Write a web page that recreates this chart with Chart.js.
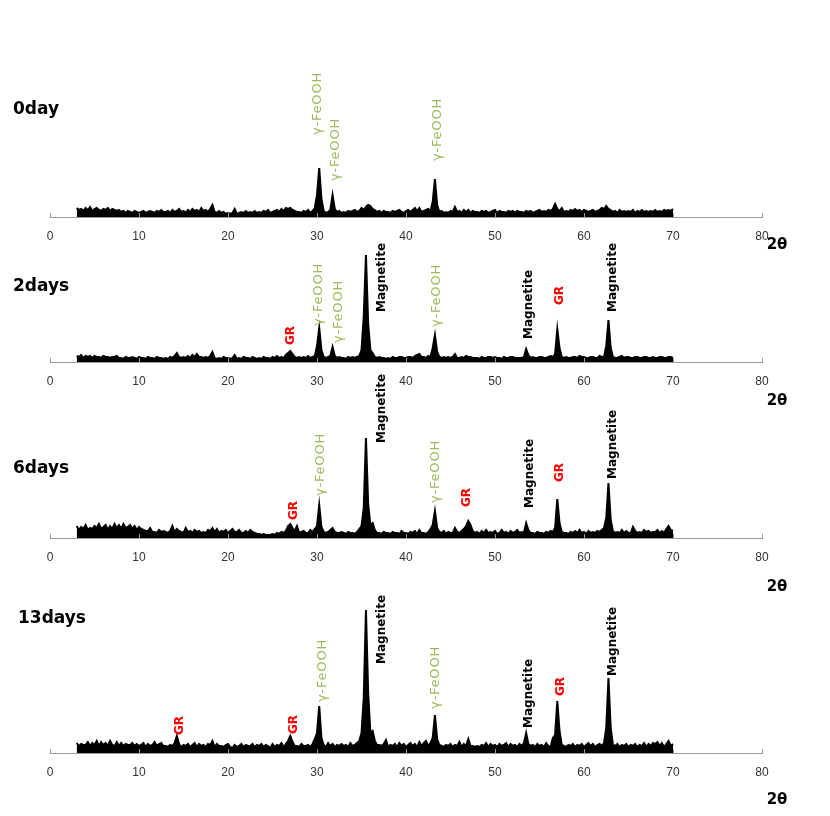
<!DOCTYPE html>
<html><head><meta charset="utf-8">
<script src="https://cdn.jsdelivr.net/npm/chart.js@4.4.0/dist/chart.umd.min.js"></script>
<style>
html,body{margin:0;padding:0;background:#fff;}
#wrap{position:relative;width:830px;height:816px;overflow:hidden;}
canvas{position:absolute;left:0;}
</style></head><body><div id="wrap">
<canvas id="c0" width="830" height="230" style="top:47px"></canvas>
<canvas id="c1" width="830" height="230" style="top:192px"></canvas>
<canvas id="c2" width="830" height="230" style="top:368px"></canvas>
<canvas id="c3" width="830" height="230" style="top:583px"></canvas>
</div>
<script>
// 2θ scan from 3° to 70°, 0.25° step
const twoTheta = Array.from({length: 269}, (_, i) => 3 + i * 0.25);
const xTicks = [0, 10, 20, 30, 40, 50, 60, 70, 80];
const panelNames = ['0day', '2days', '6days', '13days'];
const axisTitle = '2θ';

// intensities (relative), rows of 5° (20 points)
const day0 = [
 9,7,8,6,9,7,10,6,8,9,7,6,8,7,9,6,8,7,6,7,
 5,6,4,6,5,4,6,5,4,5,6,4,5,6,5,4,6,5,7,5,
 5,6,4,7,5,6,8,5,6,4,7,5,8,6,7,5,9,6,7,5,
 8,12,5,4,6,4,5,3,4,3,4,8,3,4,5,4,6,4,5,4,
 6,4,5,4,6,5,7,4,5,6,7,5,8,6,9,8,9,7,6,5,
 5,4,6,5,7,4,6,9,22,49,18,6,4,5,7,22,8,5,6,4,
 5,4,6,5,6,7,5,6,9,7,10,12,11,8,7,5,6,4,6,5,
 5,4,6,5,6,7,5,4,6,7,5,7,9,6,9,5,6,7,8,6,
 15,38,12,5,6,4,5,4,6,5,10,5,6,4,7,5,7,4,6,5,
 5,4,6,5,6,4,5,6,7,4,6,5,5,4,6,5,6,4,6,5,
 5,4,6,5,6,4,5,6,7,5,6,5,7,6,8,13,8,6,9,5,
 6,5,7,6,8,6,7,5,7,6,5,6,7,5,6,7,9,8,11,8,
 7,5,6,4,7,5,6,5,6,5,7,4,6,5,7,5,6,5,6,5,
 7,5,6,5,7,6,7,6,8];
const day2 = [
 6,5,7,4,6,5,6,4,6,5,5,4,6,5,5,4,5,5,6,4,
 4,3,5,4,4,5,4,3,5,4,4,3,5,4,4,3,5,4,4,3,
 4,3,5,4,6,9,5,4,5,4,6,4,7,5,8,5,5,4,5,4,
 6,10,4,3,4,3,5,4,4,3,4,7,3,4,3,5,4,4,3,5,
 4,3,4,3,5,4,4,3,5,4,6,4,5,4,7,9,11,8,5,4,
 5,4,5,4,6,4,5,6,16,34,12,5,4,5,6,15,6,4,5,4,
 4,3,5,4,5,4,5,6,12,45,107,38,12,9,5,4,5,4,4,3,
 4,3,5,4,4,5,5,4,4,5,5,4,6,7,8,5,5,4,6,5,
 14,27,10,5,4,5,4,5,4,5,8,4,4,5,4,6,5,5,4,4,
 4,3,5,4,4,5,5,4,5,4,4,3,5,4,4,5,5,4,4,4,
 4,5,13,7,4,5,4,4,5,5,4,4,5,6,5,8,33,14,5,4,
 5,4,4,5,5,4,6,5,5,4,4,5,5,4,4,6,5,5,16,42,
 14,5,4,4,5,6,4,5,5,4,4,5,5,4,4,5,5,4,4,5,
 4,4,5,5,4,4,5,5,4];
const day6 = [
 12,8,11,9,13,8,10,9,12,10,14,9,11,13,8,12,9,14,10,13,
 9,14,10,11,13,9,12,8,11,9,8,7,7,10,6,6,5,8,6,7,
 6,5,7,12,6,9,7,6,5,10,6,7,5,8,6,7,5,6,5,8,
 7,10,6,9,5,7,6,8,5,7,9,6,6,8,5,5,7,5,8,6,
 5,4,4,3,4,3,3,3,4,3,5,4,6,5,7,12,14,10,7,12,
 5,6,7,5,5,8,6,9,12,33,11,6,5,6,8,10,6,5,5,6,
 5,4,6,5,5,4,6,9,12,30,100,34,13,15,8,5,5,4,6,5,
 5,4,6,5,5,4,7,5,5,4,6,5,7,4,8,5,5,4,6,9,
 13,27,10,6,5,7,4,6,5,5,10,6,5,7,9,12,17,13,7,5,
 6,4,7,5,8,5,6,5,7,4,5,8,5,6,4,7,5,6,8,5,
 6,5,15,8,5,5,4,6,5,5,4,6,5,7,6,10,39,15,6,5,
 5,4,6,5,7,5,8,5,6,4,7,5,6,5,7,6,8,10,20,55,
 18,7,5,6,5,8,5,7,5,5,11,7,5,6,5,8,6,7,5,6,
 6,8,5,7,5,9,12,8,7];
const day13 = [
 10,7,9,8,8,11,7,10,8,12,7,11,8,10,7,12,8,7,11,7,
 10,7,9,8,8,10,7,9,7,8,10,6,9,7,8,11,7,9,10,7,
 7,6,8,7,10,17,9,6,8,7,9,6,8,10,6,9,7,8,6,9,
 8,12,6,9,7,7,6,8,9,6,5,8,6,7,9,6,8,7,7,9,
 6,8,7,9,6,8,7,5,9,6,8,7,10,6,9,12,17,11,7,7,
 6,9,7,7,8,6,9,14,20,47,15,8,6,10,7,9,6,8,7,9,
 7,8,6,10,7,8,10,12,20,55,143,60,20,22,12,8,8,7,9,13,
 6,8,7,9,6,10,7,9,6,8,10,7,9,6,11,7,10,12,7,10,
 15,38,14,8,7,6,8,7,9,6,8,7,11,6,9,7,14,7,7,6,
 7,6,8,7,10,6,9,7,8,6,9,7,8,10,6,9,7,8,6,9,
 7,10,20,9,7,8,6,9,7,8,6,10,7,6,15,18,52,22,8,7,
 6,8,7,9,6,8,7,9,6,8,10,7,9,6,8,9,7,10,25,75,
 25,8,7,9,6,8,7,9,6,8,7,9,6,8,7,10,6,9,7,10,
 9,11,7,10,6,9,12,7,9];

// peak annotations: [text, 2θ anchor, intensity anchor]
const peaks0 = [['γ-FeOOH',30.1,82],['γ-FeOOH',32.1,36],['γ-FeOOH',43.6,56]];
const peaks2 = [['GR',27.1,17],['γ-FeOOH',30.2,36],['γ-FeOOH',32.4,19],['Magnetite',37.3,50],
  ['γ-FeOOH',43.4,35],['Magnetite',53.8,23],['GR',57.3,57],['Magnetite',63.2,50]];
const peaks6 = [['GR',27.4,18],['γ-FeOOH',30.4,42],['Magnetite',37.3,95],['γ-FeOOH',43.3,35],
  ['GR',46.8,31],['Magnetite',53.9,30],['GR',57.3,56],['Magnetite',63.2,59]];
const peaks13 = [['GR',14.6,18],['GR',27.4,19],['γ-FeOOH',30.6,51],['Magnetite',37.3,89],
  ['γ-FeOOH',43.3,44],['Magnetite',53.8,25],['GR',57.4,57],['Magnetite',63.2,77]];

const labelStyle = {
  'γ-FeOOH': {font: '13px "DejaVu Sans"', color: '#9BBB59', spacing: '0.8px'},
  'Magnetite': {font: 'bold 12px "DejaVu Sans"', color: '#000000', spacing: '0px'},
  'GR': {font: 'bold 12px "DejaVu Sans"', color: '#FF0000', spacing: '0px'}
};
// layout per panel: title position (page y), axis title offset
const panelTop = [47, 192, 368, 583];
const titlePos = [[13,110],[13,287],[13,469],[18,619]];
const axisTitleY = [245, 401, 587, 800];

const annotate = {
  id: 'annotate',
  afterDatasetsDraw(chart, args, o) {
    const ctx = chart.ctx, xs = chart.scales.x, ys = chart.scales.y;
    const yb = ys.getPixelForValue(0);
    ctx.save();
    ctx.strokeStyle = '#9a9a9a'; ctx.lineWidth = 1;
    xTicks.forEach(v => {
      const px = Math.round(xs.getPixelForValue(v)) + 0.5;
      ctx.beginPath(); ctx.moveTo(px, yb - 4); ctx.lineTo(px, yb + 1); ctx.stroke();
    });
    o.peaks.forEach(p => {
      const st = labelStyle[p[0]];
      ctx.save();
      ctx.translate(xs.getPixelForValue(p[1]), ys.getPixelForValue(p[2]));
      ctx.rotate(-Math.PI / 2);
      ctx.font = st.font; ctx.fillStyle = st.color; ctx.letterSpacing = st.spacing;
      ctx.textAlign = 'left'; ctx.textBaseline = 'middle';
      ctx.fillText(p[0], 0, 0);
      ctx.restore();
    });
    ctx.fillStyle = '#000';
    ctx.font = 'bold 17px "DejaVu Sans"';
    ctx.textAlign = 'left'; ctx.textBaseline = 'middle';
    ctx.fillText(o.title, o.tx, o.ty);
    ctx.font = 'bold 15px "DejaVu Sans"';
    ctx.textAlign = 'center';
    ctx.fillText(axisTitle, 777, o.ay);
    ctx.restore();
  }
};

const series = [day0, day2, day6, day13];
const peakSets = [peaks0, peaks2, peaks6, peaks13];
series.forEach((vals, k) => {
  new Chart(document.getElementById('c' + k), {
    type: 'line',
    data: { datasets: [{
      data: twoTheta.map((x, i) => ({x: x, y: vals[i]})),
      borderColor: '#000', backgroundColor: '#000', borderWidth: 2,
      pointRadius: 0, tension: 0, fill: 'origin'
    }]},
    options: {
      responsive: false, animation: false, events: [],
      layout: {padding: {left: 50, right: 68, top: 0, bottom: 30}},
      plugins: {
        legend: {display: false}, tooltip: {enabled: false},
        annotate: {peaks: peakSets[k], title: panelNames[k],
          tx: titlePos[k][0], ty: titlePos[k][1] - panelTop[k], ay: axisTitleY[k] - panelTop[k]}
      },
      scales: {
        x: {type: 'linear', min: 0, max: 80,
          afterFit: s => { s.height = 30; },
          afterBuildTicks: s => { s.ticks = xTicks.map(v => ({value: v})); },
          ticks: {font: {family: '"Liberation Sans Narrow", "Liberation Sans", sans-serif', size: 12},
            color: '#333', padding: 12, maxRotation: 0, autoSkip: false},
          grid: {display: true, drawOnChartArea: false, drawTicks: false},
          border: {display: true, color: '#9a9a9a', width: 1}
        },
        y: {display: false, min: 0, max: 170}
      }
    },
    plugins: [annotate]
  });
});
</script></body></html>
